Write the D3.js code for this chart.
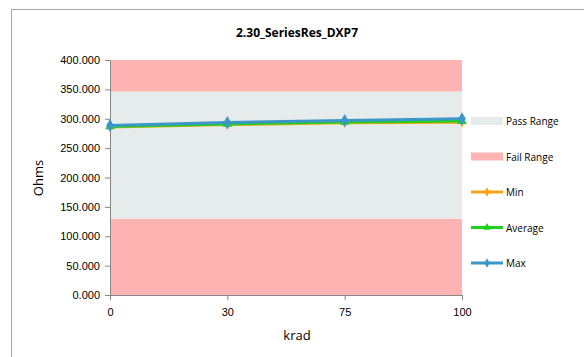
<!DOCTYPE html>
<html><head><meta charset="utf-8">
<script src="https://cdn.jsdelivr.net/npm/d3@7"></script>
<style>body{margin:0;background:#fff}svg{display:block;font-family:"Open Sans","Liberation Sans",sans-serif}</style>
</head><body><svg id="c" width="584" height="357"></svg>
<script>
const categories = ["0","30","75","100"];
const minVals = [286, 290, 293, 294];
const avgVals = [287, 291, 294.5, 296];
const maxVals = [288.5, 293.5, 297, 300];
const passRange = [130, 346];
const failLow = [0, 130];
const failHigh = [346, 400];
const yTicks = [0,50,100,150,200,250,300,350,400];

const svg = d3.select("#c");
const m = {l:110, r:462, t:60, b:295};
svg.append("rect").attr("x",11.5).attr("y",9.5).attr("width",600).attr("height",400).attr("fill","#fff").attr("stroke","#a6a6a6");

const x = d3.scalePoint().domain(categories).range([m.l, m.r]);
const y = d3.scaleLinear().domain([0,400]).range([m.b, m.t]);

const band = (r,c)=>svg.append("rect").attr("x",m.l).attr("width",m.r-m.l).attr("y",y(r[1])).attr("height",y(r[0])-y(r[1])).attr("fill",c);
band(failLow,"#ffb3b3"); band(failHigh,"#ffb3b3"); band(passRange,"#e6ebeb");

const ya = svg.append("g").attr("transform",`translate(${m.l},0)`)
  .call(d3.axisLeft(y).tickValues(yTicks).tickFormat(d3.format(".3f")).tickSize(5).tickSizeOuter(0));
const xa = svg.append("g").attr("transform",`translate(0,${m.b})`)
  .call(d3.axisBottom(x).tickSize(5).tickSizeOuter(0));
[ya,xa].forEach(a=>{a.select(".domain").attr("stroke","#868686");a.selectAll("line").attr("stroke","#868686");a.selectAll("text").attr("font-size",11).attr("fill","#000");});
xa.selectAll("text").attr("dy","1.2em");
ya.selectAll("text").attr("dx","-2");

const series = [
  {name:"Min", vals:minVals, color:"#f7a21b", sym:d3.symbolDiamond, size:30},
  {name:"Average", vals:avgVals, color:"#1ed31e", sym:d3.symbolTriangle, size:40},
  {name:"Max", vals:maxVals, color:"#3c96c8", sym:d3.symbolDiamond, size:50}
];
const line = d3.line().x((d,i)=>x(categories[i])).y(d=>y(d));
series.forEach(s=>{
  svg.append("path").datum(s.vals).attr("d",line).attr("fill","none").attr("stroke",s.color).attr("stroke-width",3);
  svg.selectAll(null).data(s.vals).enter().append("path")
    .attr("d",d3.symbol().type(s.sym).size(s.size))
    .attr("transform",(d,i)=>`translate(${x(categories[i])},${y(d)})`).attr("fill",s.color);
});

svg.append("text").attr("x",297).attr("y",37).attr("text-anchor","middle").attr("font-size",12).attr("font-weight","bold").text("2.30_SeriesRes_DXP7");
svg.append("text").attr("transform","translate(43,178) rotate(-90)").attr("text-anchor","middle").attr("font-size",13).text("Ohms");
svg.append("text").attr("x",297).attr("y",340).attr("text-anchor","middle").attr("font-size",13).text("krad");

const leg = [
  {name:"Pass Range", type:"box", color:"#e6ebeb"},
  {name:"Fail Range", type:"box", color:"#ffb3b3"},
  {name:"Min", type:"line", color:"#f7a21b", sym:d3.symbolDiamond},
  {name:"Average", type:"line", color:"#1ed31e", sym:d3.symbolTriangle},
  {name:"Max", type:"line", color:"#3c96c8", sym:d3.symbolDiamond}
];
leg.forEach((l,i)=>{
  const cy = 121 + i*35.5;
  if(l.type==="box") svg.append("rect").attr("x",471).attr("y",cy-4).attr("width",32).attr("height",8).attr("fill",l.color);
  else {
    svg.append("line").attr("x1",471).attr("x2",503).attr("y1",cy).attr("y2",cy).attr("stroke",l.color).attr("stroke-width",3);
    svg.append("path").attr("d",d3.symbol().type(l.sym).size(25)).attr("transform",`translate(487,${cy})`).attr("fill",l.color);
  }
  svg.append("text").attr("x",506).attr("y",cy+4).attr("font-size",10).text(l.name);
});
</script></body></html>
